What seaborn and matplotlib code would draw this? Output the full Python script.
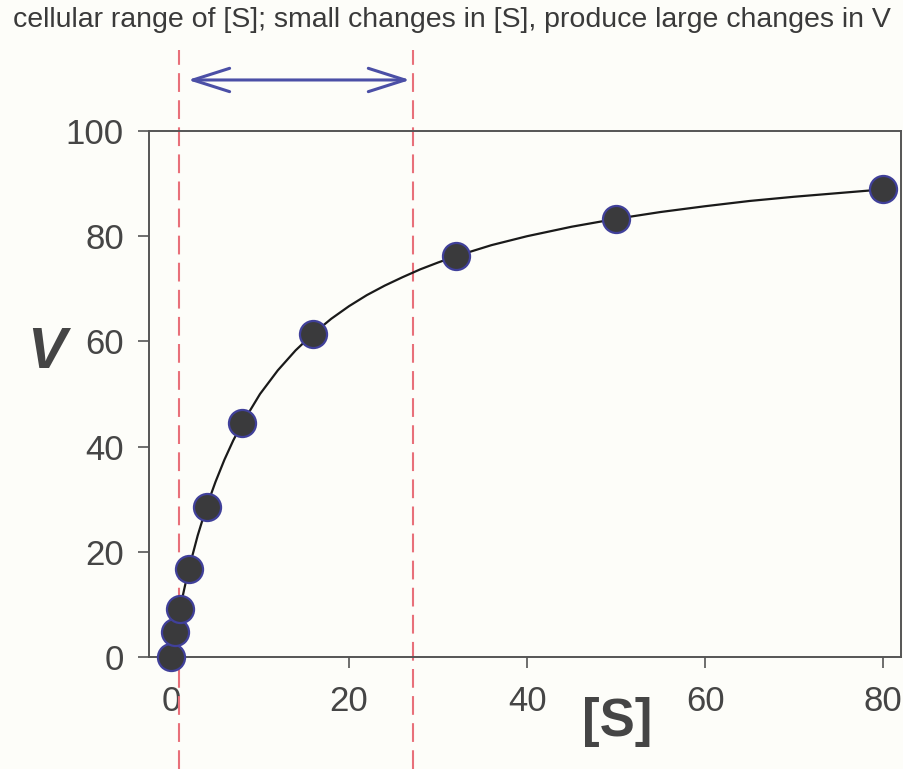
import matplotlib
matplotlib.use("Agg")
import matplotlib.pyplot as plt
import seaborn as sns
import pandas as pd

# Measured substrate concentrations and velocities
s_points = [0, 0.5, 1, 2, 4, 8, 16, 32, 50, 80]
v_points = [0, 4.8, 9.1, 16.7, 28.6, 44.4, 61.5, 76.2, 83.3, 88.9]

# Hyperbolic fit curve through the data
s_curve = [0, 0.5, 1, 1.5, 2, 3, 4, 5, 6, 7, 8, 10, 12, 14, 16, 18, 20, 22, 24,
           26, 28, 30, 32, 36, 40, 45, 50, 55, 60, 65, 70, 75, 80]
v_curve = [0, 4.8, 9.1, 13.0, 16.7, 23.1, 28.6, 33.3, 37.5, 41.2, 44.4, 50.0,
           54.5, 58.3, 61.5, 64.3, 66.7, 68.8, 70.6, 72.2, 73.7, 75.0, 76.2,
           78.3, 80.0, 81.8, 83.3, 84.6, 85.7, 86.7, 87.5, 88.2, 88.9]

# Boundaries of the cellular [S] range
range_bounds = [0.9, 27.2]
x_ticks = [0, 20, 40, 60, 80]
y_ticks = [0, 20, 40, 60, 80, 100]
title_text = "cellular range of [S]; small changes in [S], produce large changes in V"

sns.set_theme(style="white")
plt.rcParams["font.family"] = ["Liberation Sans", "DejaVu Sans"]

bg = "#fdfdf9"
grey = "#454545"

fig = plt.figure(figsize=(9.04, 7.69), dpi=100, facecolor=bg)
ax = fig.add_axes([149 / 904, 1 - 657 / 769, (901 - 149) / 904, (657 - 131) / 769])
ax.set_facecolor(bg)

pts = pd.DataFrame({"S": s_points, "V": v_points})
curve = pd.DataFrame({"S": s_curve, "V": v_curve})

sns.lineplot(data=curve, x="S", y="V", ax=ax, color="#1a1a1a", lw=1.6,
             sort=False, estimator=None, zorder=3)
sns.scatterplot(data=pts, x="S", y="V", ax=ax, s=380, color="#3a3a3c",
                edgecolor="#40409a", linewidth=1.6, zorder=4, clip_on=False)

ax.set_xlim(-2.47, 82.0)
ax.set_ylim(0, 100)
ax.set_xticks(x_ticks)
ax.set_yticks(y_ticks)
ax.set_xlabel("")
ax.set_ylabel("")

for sp in ax.spines.values():
    sp.set_color("#555555")
    sp.set_linewidth(1.4)

ax.tick_params(axis="both", which="major", direction="out", length=8, width=1.2,
               color="#555555", labelcolor=grey, labelsize=25)
ax.tick_params(axis="x", pad=12, bottom=True)
ax.tick_params(axis="y", pad=10, left=True)

# Dashed boundaries extend beyond the plotting area
for xb in range_bounds:
    ax.axvline(xb, ymin=-0.213, ymax=1.154, color="#e8707a", lw=1.5,
               dashes=(9, 4), clip_on=False, zorder=2)

# Double-headed arrow spanning the range
ax.annotate("", xy=(26.85, 1.097), xytext=(1.9, 1.097),
            xycoords=("data", "axes fraction"), textcoords=("data", "axes fraction"),
            arrowprops=dict(arrowstyle="<->,head_length=2.2,head_width=0.7",
                            color="#4b4fa6", lw=2.2, shrinkA=0, shrinkB=0),
            annotation_clip=False)

fig.text(452 / 904, 1 - 20 / 769, title_text, ha="center", va="center",
         fontsize=20.5, color="#3a3a3a")
fig.text(47 / 904, 1 - 353 / 769, "V", ha="center", va="center", fontsize=42,
         fontweight="bold", fontstyle="italic", color=grey)
fig.text(617 / 904, 1 - 722 / 769, "[S]", ha="center", va="center", fontsize=38,
         fontweight="bold", color=grey)

fig.savefig("out.png", dpi=100, facecolor=bg)
